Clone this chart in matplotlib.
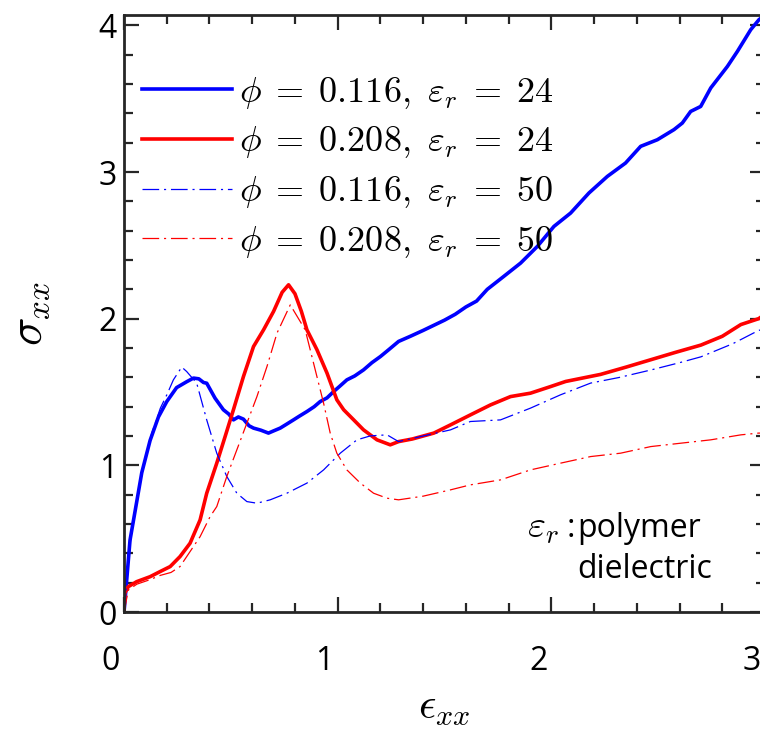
import numpy as np
import matplotlib
matplotlib.use("Agg")
import matplotlib.pyplot as plt
from matplotlib.ticker import MultipleLocator
from matplotlib.transforms import ScaledTranslation

# phi = 0.116, eps_r = 24 (solid blue)
x_b24 = [0.0, 0.028, 0.052, 0.083, 0.122, 0.161, 0.2, 0.246, 0.293, 0.325, 0.35, 0.372,
         0.387, 0.426, 0.465, 0.49, 0.512, 0.535, 0.559, 0.585, 0.606, 0.64, 0.676, 0.7,
         0.731, 0.76, 0.793, 0.82, 0.856, 0.89, 0.918, 0.95, 0.981, 1.01, 1.043, 1.08,
         1.121, 1.16, 1.2, 1.24, 1.285, 1.34, 1.4, 1.45, 1.5, 1.55, 1.6, 1.65, 1.7, 1.777,
         1.856, 1.934, 2.012, 2.09, 2.176, 2.262, 2.347, 2.418, 2.496, 2.574, 2.613,
         2.652, 2.699, 2.746, 2.824, 2.871, 2.933, 2.972, 3.0]
y_b24 = [0.0, 0.49, 0.69, 0.95, 1.17, 1.33, 1.435, 1.53, 1.57, 1.595, 1.59, 1.565,
         1.56, 1.458, 1.379, 1.35, 1.31, 1.33, 1.315, 1.27, 1.254, 1.24, 1.22, 1.235,
         1.254, 1.28, 1.31, 1.335, 1.367, 1.40, 1.435, 1.46, 1.503, 1.54, 1.583, 1.61,
         1.651, 1.70, 1.742, 1.79, 1.845, 1.88, 1.92, 1.955, 1.99, 2.03, 2.08, 2.12, 2.2, 2.288,
         2.379, 2.492, 2.629, 2.72, 2.857, 2.97, 3.061, 3.175, 3.22, 3.289, 3.334,
         3.413, 3.447, 3.573, 3.72, 3.823, 3.97, 4.039, 4.07]

# phi = 0.208, eps_r = 24 (solid red)
x_r24 = [0.0, 0.003, 0.02, 0.059, 0.122, 0.169, 0.216, 0.262, 0.309, 0.356, 0.387, 0.434,
         0.473, 0.512, 0.559, 0.606, 0.653, 0.7, 0.74, 0.77, 0.8, 0.83, 0.856, 0.903,
         0.95, 0.996, 1.028, 1.075, 1.121, 1.184, 1.246, 1.285, 1.35, 1.45, 1.528, 1.621,
         1.715, 1.809, 1.902, 1.996, 2.067, 2.23, 2.35, 2.465, 2.58, 2.7, 2.8, 2.887,
         2.97, 3.0]
y_r24 = [0.0, 0.128, 0.173, 0.207, 0.241, 0.276, 0.31, 0.378, 0.469, 0.628, 0.81, 1.015,
         1.196, 1.379, 1.606, 1.81, 1.924, 2.05, 2.18, 2.231, 2.17, 2.05, 1.924, 1.788,
         1.629, 1.447, 1.379, 1.31, 1.242, 1.174, 1.14, 1.162, 1.18, 1.22, 1.276, 1.344,
         1.412, 1.469, 1.492, 1.537, 1.572, 1.62, 1.67, 1.72, 1.77, 1.82, 1.88, 1.96,
         2.0, 2.03]

# phi = 0.116, eps_r = 50 (dash-dot blue)
x_b50 = [0.0, 0.03, 0.06, 0.09, 0.13, 0.17, 0.2, 0.231, 0.27, 0.293, 0.34, 0.387, 0.434,
         0.481, 0.528, 0.575, 0.622, 0.684, 0.762, 0.856, 0.934, 1.012, 1.09, 1.153,
         1.231, 1.285, 1.4, 1.528, 1.621, 1.762, 1.902, 2.043, 2.184, 2.32, 2.465, 2.6,
         2.7, 2.85, 2.97, 3.0]
y_b50 = [0.0, 0.48, 0.75, 0.99, 1.22, 1.39, 1.48, 1.583, 1.67, 1.64, 1.561, 1.31, 1.083,
         0.924, 0.81, 0.753, 0.742, 0.765, 0.81, 0.879, 0.969, 1.083, 1.174, 1.201,
         1.208, 1.162, 1.2, 1.242, 1.299, 1.31, 1.39, 1.481, 1.561, 1.6, 1.65, 1.7,
         1.74, 1.83, 1.92, 1.93]

# phi = 0.208, eps_r = 50 (dash-dot red)
x_r50 = [0.0, 0.02, 0.06, 0.12, 0.17, 0.22, 0.262, 0.309, 0.356, 0.403, 0.434, 0.481,
         0.528, 0.575, 0.622, 0.669, 0.716, 0.778, 0.848, 0.887, 0.934, 0.965, 0.996,
         1.043, 1.106, 1.168, 1.231, 1.285, 1.4, 1.528, 1.621, 1.762, 1.902, 2.043,
         2.184, 2.324, 2.465, 2.605, 2.746, 2.887, 2.97, 3.0]
y_r50 = [0.0, 0.15, 0.19, 0.22, 0.25, 0.27, 0.31, 0.412, 0.514, 0.651, 0.719, 0.924,
         1.106, 1.288, 1.469, 1.674, 1.902, 2.094, 1.924, 1.697, 1.424, 1.22, 1.083,
         0.969, 0.879, 0.81, 0.776, 0.765, 0.79, 0.833, 0.867, 0.901, 0.969, 1.015,
         1.06, 1.083, 1.128, 1.151, 1.174, 1.208, 1.22, 1.22]

labels = [r"$\phi\;=\;0.116,\ \varepsilon_r\;=\;24$",
          r"$\phi\;=\;0.208,\ \varepsilon_r\;=\;24$",
          r"$\phi\;=\;0.116,\ \varepsilon_r\;=\;50$",
          r"$\phi\;=\;0.208,\ \varepsilon_r\;=\;50$"]

plt.rcParams["font.family"] = ["Open Sans", "DejaVu Sans"]
plt.rcParams["mathtext.fontset"] = "cm"
plt.rcParams["lines.scale_dashes"] = False

fig = plt.figure(figsize=(7.6, 7.35), dpi=100)
ax = fig.add_axes([0.1632, 0.1673, 0.8434, 0.8122])

dd = (0, (12, 3.5, 1.5, 3.5))
ax.plot(x_b24, y_b24, color="blue", lw=2.6, label=labels[0])
ax.plot(x_r24, y_r24, color="red", lw=2.6, label=labels[1])
ax.plot(x_b50, y_b50, color="blue", lw=0.9, linestyle=dd, label=labels[2])
ax.plot(x_r50, y_r50, color="red", lw=0.9, linestyle=dd, label=labels[3])

ax.set_xlim(0, 3.0)
ax.set_ylim(0, 4.07)
ax.xaxis.set_major_locator(MultipleLocator(1))
ax.xaxis.set_minor_locator(MultipleLocator(0.2))
ax.yaxis.set_major_locator(MultipleLocator(1))
ax.yaxis.set_minor_locator(MultipleLocator(0.2))

spine_col = "#262626"
for s in ax.spines.values():
    s.set_linewidth(2.0)
    s.set_color(spine_col)
ax.tick_params(which="both", direction="in", top=True, right=True,
               color=spine_col, width=1.6, labelsize=23)
ax.tick_params(which="major", length=11)
ax.tick_params(which="minor", length=6.5)
ax.tick_params(axis="x", pad=24)
ax.tick_params(axis="y", pad=5)

off = ScaledTranslation(-13 / 100, 0, fig.dpi_scale_trans)
for lab in ax.get_xticklabels():
    lab.set_transform(lab.get_transform() + off)

ax.set_xlabel(r"$\epsilon_{xx}$", fontsize=31, labelpad=5)
ax.set_ylabel(r"$\sigma_{xx}$", fontsize=34, labelpad=33)

ax.legend(loc="upper left", bbox_to_anchor=(0.028, 0.9), frameon=False,
          fontsize=26, handlelength=2.5, handletextpad=0.2, labelspacing=0.38,
          borderaxespad=0, borderpad=0)

ax.text(2.035, 0.512, r"$\varepsilon_r$", fontsize=28, ha="right", va="baseline")
ax.text(2.07, 0.512, ":", fontsize=23, ha="left", va="baseline")
ax.text(2.123, 0.512, "polymer", fontsize=23, ha="left", va="baseline")
ax.text(2.123, 0.235, "dielectric", fontsize=23, ha="left", va="baseline")

fig.savefig("out.png", dpi=100)
